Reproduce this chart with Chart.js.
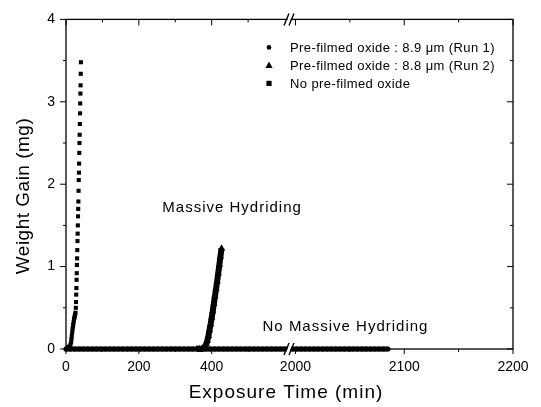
<!DOCTYPE html>
<html>
<head>
<meta charset="utf-8">
<script src="https://cdn.jsdelivr.net/npm/chart.js@4/dist/chart.umd.min.js"></script>
<style>
    html, body { margin: 0; padding: 0; background: #fff; }
    canvas { display: block; }
</style>
</head>
<body>
<canvas id="myChart" width="541" height="407"></canvas>
<script>
// Run 1 (pre-filmed oxide 8.9 um): stays at zero, split over the broken time axis
var run1TimeLeft = [0, 12, 24, 36, 48, 60, 72, 84, 96, 108, 120, 132, 144, 156, 168, 180, 192, 204, 216, 228,
    240, 252, 264, 276, 288, 300, 312, 324, 336, 348, 360, 372, 384, 396, 408, 420, 432, 444, 456, 468,
    480, 492, 504, 516, 528, 540, 552, 564, 576, 588, 600, 608];
var run1GainLeft = [0, 0, 0, 0, 0, 0, 0, 0, 0, 0, 0, 0, 0, 0, 0, 0, 0, 0, 0, 0,
    0, 0, 0, 0, 0, 0, 0, 0, 0, 0, 0, 0, 0, 0, 0, 0, 0, 0, 0, 0,
    0, 0, 0, 0, 0, 0, 0, 0, 0, 0, 0, 0];
var run1TimeRight = [1997, 2001, 2005, 2009, 2013, 2017, 2021, 2025, 2029, 2033, 2037, 2041,
    2045, 2049, 2053, 2057, 2061, 2065, 2069, 2073, 2077, 2081, 2085];
var run1GainRight = [0, 0, 0, 0, 0, 0, 0, 0, 0, 0, 0, 0,
    0, 0, 0, 0, 0, 0, 0, 0, 0, 0, 0];

// Run 2 (pre-filmed oxide 8.8 um): breaks away near 390 min
var run2Time = [360, 366, 372, 377, 381, 385, 388, 391, 394, 397, 400, 403, 406, 409, 412, 415, 418, 421, 424, 427];
var run2Gain = [0, 0, 0, 0.01, 0.03, 0.06, 0.1, 0.16, 0.23, 0.3, 0.38, 0.46, 0.55, 0.64, 0.73, 0.82, 0.92, 1.02, 1.12, 1.22];

// no pre-filmed oxide
var bareTime = [0, 3, 6, 9, 12, 14, 15, 16, 17, 18, 19, 20, 21, 22, 23, 24, 25, 26,
    27, 27.5, 28, 28.5, 29, 29.5, 30, 30.5, 31, 31.5, 32, 32.5, 33, 33.5, 34, 34.5, 35, 35.5,
    36, 36.5, 37, 37.5, 38, 38.5, 39, 39.5, 40, 40.5, 41];
var bareGain = [0, 0, 0.02, 0.03, 0.05, 0.08, 0.12, 0.16, 0.2, 0.24, 0.27, 0.3, 0.33, 0.36, 0.38, 0.4, 0.42, 0.44,
    0.5, 0.57, 0.66, 0.74, 0.84, 0.92, 1.02, 1.1, 1.2, 1.31, 1.4, 1.5, 1.61, 1.7, 1.79, 1.92, 2.05, 2.14,
    2.25, 2.38, 2.5, 2.6, 2.73, 2.86, 2.98, 3.1, 3.2, 3.34, 3.48];

var seriesLabels = ["Pre-filmed oxide : 8.9 \u03bcm (Run 1)", "Pre-filmed oxide : 8.8 \u03bcm (Run 2)", "No pre-filmed oxide"];
var xLabelsLeft = [0, 200, 400];
var xLabelsRight = [2000, 2100, 2200];
var yLabels = [0, 1, 2, 3, 4];

var FONT = "'Liberation Sans', Arial, sans-serif";

let myChart;

// frame, mirrored ticks, axis break, legend, notes and titles
const framePlugin = {
    id: "frame",
    afterDraw(chart) {
        const ctx = chart.ctx;
        const a = chart.chartArea;
        const xL = chart.scales.xL, xR = chart.scales.xR, y = chart.scales.y;
        ctx.save();
        ctx.strokeStyle = "#000";
        ctx.fillStyle = "#000";
        ctx.lineWidth = 1.3;
        ctx.strokeRect(a.left, a.top, a.right - a.left, a.bottom - a.top);

        ctx.lineWidth = 1;
        let vTick = (px, major) => {
            ctx.beginPath();
            ctx.moveTo(px, a.bottom); ctx.lineTo(px, a.bottom + (major ? 5 : 3));
            ctx.moveTo(px, a.top); ctx.lineTo(px, a.top + (major ? 6 : 3));
            ctx.stroke();
        };
        xL.ticks.forEach(t => { if (t.value <= 550) vTick(xL.getPixelForValue(t.value), t.value % 200 === 0); });
        xR.ticks.forEach(t => { vTick(xR.getPixelForValue(t.value), t.value % 100 === 0); });
        y.ticks.forEach(t => {
            const py = y.getPixelForValue(t.value);
            const major = Number.isInteger(t.value);
            ctx.beginPath();
            ctx.moveTo(a.left, py); ctx.lineTo(a.left - (major ? 6 : 3), py);
            ctx.moveTo(a.right, py); ctx.lineTo(a.right - (major ? 6 : 3), py);
            ctx.stroke();
        });

        // axis break "//"
        const bx = xL.right;
        ctx.lineWidth = 1.4;
        [a.top, a.bottom].forEach(by => {
            ctx.fillStyle = "#fff";
            ctx.beginPath();
            ctx.moveTo(bx - 5, by + 6); ctx.lineTo(bx, by - 6); ctx.lineTo(bx + 3, by - 6); ctx.lineTo(bx - 2, by + 6);
            ctx.closePath(); ctx.fill();
            ctx.beginPath();
            ctx.moveTo(bx - 6, by + 6); ctx.lineTo(bx - 1, by - 6);
            ctx.moveTo(bx - 1, by + 6); ctx.lineTo(bx + 4, by - 6);
            ctx.stroke();
        });
        ctx.fillStyle = "#000";

        // legend
        const lx = a.right - 244, tx = a.right - 223;
        const rows = [a.top + 28, a.top + 46, a.top + 64];
        ctx.font = "13px " + FONT;
        ctx.letterSpacing = "0.4px";
        ctx.textAlign = "left";
        ctx.textBaseline = "middle";
        rows.forEach((ry, i) => {
            ctx.beginPath();
            if (i === 0) {
                ctx.arc(lx, ry, 2.3, 0, Math.PI * 2);
            } else if (i === 1) {
                ctx.moveTo(lx, ry - 4); ctx.lineTo(lx + 3.6, ry + 2.5); ctx.lineTo(lx - 3.6, ry + 2.5); ctx.closePath();
            } else {
                ctx.rect(lx - 2.6, ry - 2.6, 5.2, 5.2);
            }
            ctx.fill();
            ctx.fillText(seriesLabels[i], tx, ry + 1);
        });

        // notes
        ctx.font = "15px " + FONT;
        ctx.letterSpacing = "1px";
        ctx.textAlign = "center";
        ctx.fillText("Massive Hydriding", xL.getPixelForValue(456), y.getPixelForValue(1.71));
        ctx.fillText("No Massive Hydriding", xR.getPixelForValue(2046), y.getPixelForValue(0.27));

        // axis titles
        ctx.font = "19px " + FONT;
        ctx.fillText("Exposure Time (min)", bx - 4, 393);
        ctx.letterSpacing = "0.5px";
        ctx.translate(24, 196);
        ctx.rotate(-Math.PI / 2);
        ctx.fillText("Weight Gain (mg)", 0, 0);
        ctx.restore();
    }
};

let pointsOf = (xs, ys) => xs.map((x, i) => ({ x: x, y: ys[i] }));

let tickFont = { family: FONT, size: 14 };

const data = {
    datasets: [
        {
            label: seriesLabels[0], data: pointsOf(run1TimeLeft, run1GainLeft), xAxisID: "xL", yAxisID: "y",
            showLine: true, borderColor: "#000", borderWidth: 5, borderCapStyle: "butt",
            pointStyle: "circle", pointRadius: 2.6, backgroundColor: "#000", pointBorderWidth: 0, clip: false
        },
        {
            label: seriesLabels[0], data: pointsOf(run1TimeRight, run1GainRight), xAxisID: "xR", yAxisID: "y",
            showLine: true, borderColor: "#000", borderWidth: 5, borderCapStyle: "butt",
            pointStyle: "circle", pointRadius: 2.6, backgroundColor: "#000", pointBorderWidth: 0, clip: false
        },
        {
            label: seriesLabels[1], data: pointsOf(run2Time, run2Gain), xAxisID: "xL", yAxisID: "y",
            showLine: true, borderColor: "#000", borderWidth: 6, borderJoinStyle: "round",
            pointStyle: "triangle", pointRadius: 4.2, backgroundColor: "#000", pointBorderWidth: 0, clip: false
        },
        {
            label: seriesLabels[2], data: pointsOf(bareTime, bareGain), xAxisID: "xL", yAxisID: "y",
            pointStyle: "rect", pointRadius: 2.9, backgroundColor: "#000", borderWidth: 0, clip: false
        }
    ]
};

const config = {
    type: "scatter",
    data: data,
    options: {
        responsive: false,
        animation: false,
        events: [],
        layout: { padding: { top: 17, right: 28, left: 0, bottom: 0 } },
        scales: {
            xL: {
                type: "linear", position: "bottom", stack: "time", stackWeight: 224,
                min: 0, max: 615,
                grid: { display: false, drawTicks: false }, border: { display: false },
                ticks: {
                    stepSize: 100, includeBounds: false, autoSkip: false, maxRotation: 0, padding: 10,
                    color: "#000", font: tickFont,
                    callback: (v) => xLabelsLeft.includes(v) ? String(v) : ""
                },
                afterFit: (s) => { s.height = 58; }
            },
            xR: {
                type: "linear", position: "bottom", stack: "time", stackWeight: 223,
                min: 1995, max: 2200,
                grid: { display: false, drawTicks: false }, border: { display: false },
                ticks: {
                    stepSize: 50, includeBounds: false, autoSkip: false, maxRotation: 0, padding: 10,
                    color: "#000", font: tickFont,
                    callback: (v) => xLabelsRight.includes(v) ? String(v) : ""
                },
                afterFit: (s) => { s.height = 58; }
            },
            y: {
                type: "linear", position: "left", min: 0, max: 4,
                grid: { display: false, drawTicks: false }, border: { display: false },
                ticks: {
                    stepSize: 0.5, autoSkip: false, padding: 11,
                    color: "#000", font: tickFont,
                    callback: (v) => yLabels.includes(v) ? String(v) : ""
                },
                afterFit: (s) => { s.width = 66; }
            }
        },
        plugins: {
            legend: { display: false },
            tooltip: { enabled: false }
        }
    },
    plugins: [framePlugin]
};

const ctx = document.getElementById("myChart").getContext("2d");
myChart = new Chart(ctx, config);
</script>
</body>
</html>
